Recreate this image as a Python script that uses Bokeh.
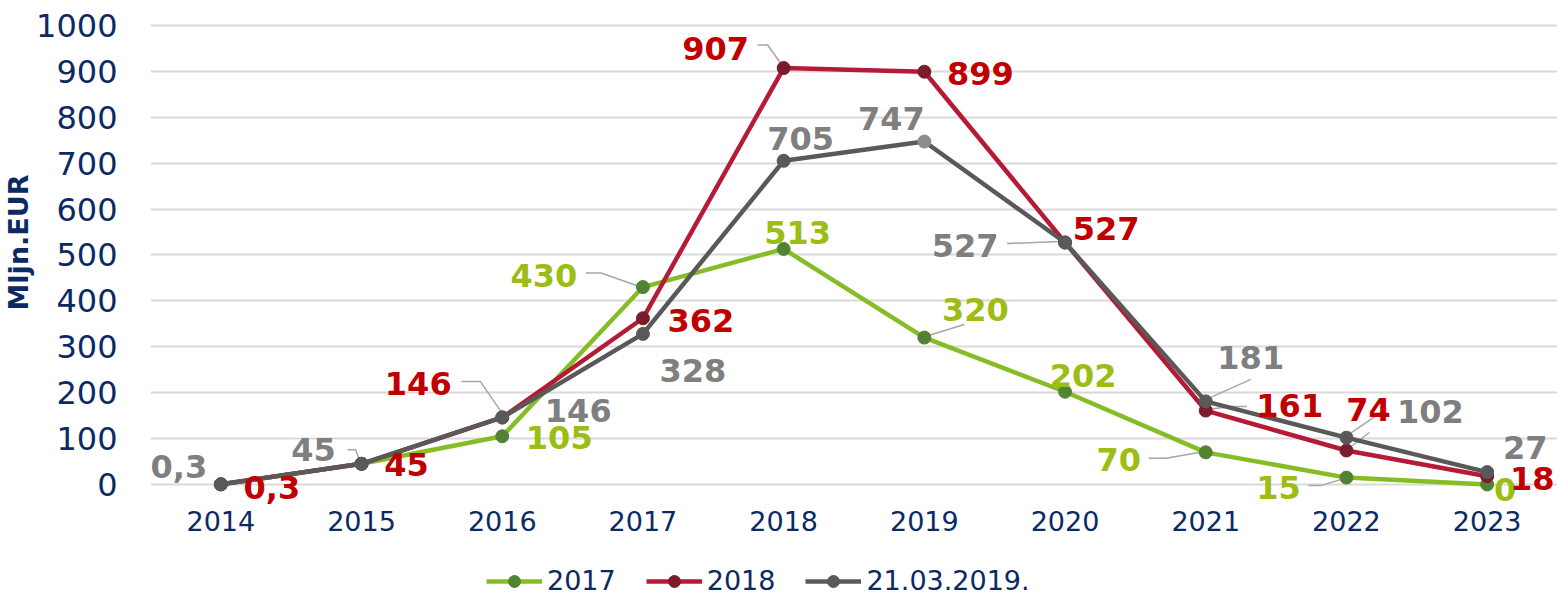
from bokeh.plotting import figure
from bokeh.layouts import column
from bokeh.models import ColumnDataSource, FixedTicker, Legend, LegendItem, FactorRange, Range1d, Title
from bokeh.core.properties import value
from bokeh.embed import file_html
from bokeh.resources import INLINE

# ---------------- data ----------------
years = ["2014", "2015", "2016", "2017", "2018", "2019", "2020", "2021", "2022", "2023"]
v_2017 = [0.3, 45, 105, 430, 513, 320, 202, 70, 15, 0]
v_2018 = [0.3, 45, 146, 362, 907, 899, 527, 161, 74, 18]
v_2019 = [0.3, 45, 146, 328, 705, 747, 527, 181, 102, 27]
series_names = ["2017", "2018", "21.03.2019."]
y_ticks = [0, 100, 200, 300, 400, 500, 600, 700, 800, 900, 1000]
y_title = "Mljn.EUR"

# which data labels are shown (some are hidden behind others in the original)
show_2017 = [False, False, True, True, True, True, True, True, True, True]
show_2018 = [True] * 10
show_2019 = [True] * 10

# ---------------- styles ----------------
FONT = "DejaVu Sans"
NAVY = "#0B2A63"
line_cols = ["#86BC25", "#B51A36", "#595959"]
mark_cols = ["#548235", "#7B1C2C", "#595959"]
text_cols = ["#9CBD13", "#C00000", "#7F7F7F"]
LEADER = "#A6A6A6"
# per-point marker colours of the grey series (one point is drawn lighter)
gray_marker_cols = ["#595959"] * 5 + ["#8C8C8C"] + ["#595959"] * 4

FRAME_W, FRAME_H = 1407, 492
Y0, Y1 = -43.6, 1028
PX_X = FRAME_W / len(years)          # pixels per category
PX_Y = FRAME_H / (Y1 - Y0)           # pixels per value unit

# label offsets in screen pixels (dx right, dy down)
dx_2017 = [0, 0, 57, -99, 14, 51, 18, -87, -68, 18]
dy_2017 = [0, 0, 1, -12, -16, -28, -16, 7, 10, 5]
dx_2018 = [51, 45, -84, 58, -68, 56, 41, 84, 22, 45]
dy_2018 = [3, 1, -34, 2, -20, 2, -14, -5, -41, 2]
dx_2019 = [-42, -48, 76, 50, 17, -33, -100, 45, 84, 38]
dy_2019 = [-18, -14, -7, 37, -22, -23, 3, -44, -26, -25]

# leader lines: (series index, point index, vertex pixel offsets from the point)
leaders = [
    (2, 1, [(-14, -14), (-6, -14), (-1, -1)]),
    (1, 2, [(-41, -36), (-22, -36), (0, -4)]),
    (0, 3, [(-57, -14), (-42, -14), (-2, 0)]),
    (1, 4, [(-26, -23), (-16, -23), (-1, -2)]),
    (0, 5, [(4, -2), (40, -13)]),
    (2, 6, [(-58, 1), (-5, -1)]),
    (2, 7, [(5, -4), (45, -22)]),
    (1, 7, [(2, -1), (25, -4), (41, -4)]),
    (2, 8, [(2, -3), (40, -29)]),
    (1, 8, [(2, -2), (23, -18)]),
    (0, 7, [(-57, 6), (-40, 6), (-5, 0)]),
    (0, 8, [(-38, 8), (-26, 8), (-6, 2)]),
]


def fmt(v):
    s = ("%g" % v)
    return s.replace(".", ",")


p = figure(
    width=1557, height=545,
    x_range=FactorRange(*years, range_padding=0),
    y_range=Range1d(Y0, Y1),
    output_backend="svg", toolbar_location=None,
    min_border_left=150, min_border_right=0, min_border_top=12, min_border_bottom=41,
)
p.outline_line_color = None
p.background_fill_color = "white"
p.border_fill_color = "white"

# grid
p.xgrid.grid_line_color = None
p.ygrid.ticker = FixedTicker(ticks=y_ticks)
p.ygrid.grid_line_color = "#D9D9D9"
p.ygrid.grid_line_width = 2

# axes
p.yaxis.ticker = FixedTicker(ticks=y_ticks)
p.yaxis.axis_line_color = None
p.yaxis.major_tick_line_color = None
p.yaxis.minor_tick_line_color = None
p.yaxis.major_label_standoff = 27
p.yaxis.major_label_text_font = FONT
p.yaxis.major_label_text_font_size = "32px"
p.yaxis.major_label_text_color = NAVY

p.xaxis.axis_line_color = None
p.xaxis.major_tick_line_color = None
p.xaxis.minor_tick_line_color = None
p.xaxis.major_label_standoff = 0
p.xaxis.major_label_text_font = FONT
p.xaxis.major_label_text_font_size = "27px"
p.xaxis.major_label_text_color = NAVY

# y-axis title as a left-side title (placed slightly above the frame centre)
p.add_layout(Title(text=y_title, align="left", offset=194, standoff=0,
                   text_font=FONT, text_font_size="27px", text_font_style="bold",
                   text_color=NAVY), "left")

series = [v_2017, v_2018, v_2019]
shows = [show_2017, show_2018, show_2019]
dxs = [dx_2017, dx_2018, dx_2019]
dys = [dy_2017, dy_2018, dy_2019]
marker_fills = [[mark_cols[0]] * 10, [mark_cols[1]] * 10, gray_marker_cols]

# leader lines (computed from the data points plus pixel offsets)
lx, ly = [], []
for si, pi, offs in leaders:
    cx = pi + 0.5
    cy = series[si][pi]
    lx.append([cx + ox / PX_X for ox, oy in offs])
    ly.append([cy - oy / PX_Y for ox, oy in offs])
p.multi_line(lx, ly, line_color=LEADER, line_width=1.5)

for i, vals in enumerate(series):
    src = ColumnDataSource(dict(x=years, y=vals, c=marker_fills[i]))
    p.line("x", "y", source=src, line_color=line_cols[i], line_width=4.5)
    p.scatter("x", "y", source=src, size=13, fill_color="c", line_color="c")

# data labels: green first, then gray, then red on top
for i in [0, 2, 1]:
    vals = series[i]
    txt = [fmt(v) if s else "" for v, s in zip(vals, shows[i])]
    lsrc = ColumnDataSource(dict(x=years, y=vals, t=txt, dx=dxs[i], dy=dys[i]))
    p.text("x", "y", text="t", source=lsrc, x_offset="dx", y_offset="dy",
           text_align="center", text_baseline="middle",
           text_font=value(FONT), text_font_style="bold", text_font_size="32px",
           text_color=text_cols[i])

# ---------------- legend strip ----------------
q = figure(width=1557, height=51, x_range=Range1d(0, 1), y_range=Range1d(0, 1),
           output_backend="svg", toolbar_location=None,
           min_border_left=0, min_border_right=0, min_border_top=0, min_border_bottom=0)
q.axis.visible = False
q.grid.visible = False
q.outline_line_color = None
items = []
for i in range(3):
    # legend-only renderers, their points lie outside the visible range
    dummy = ColumnDataSource(dict(x=[-5, -4], y=[-5, -4]))
    ln = q.line("x", "y", source=dummy, line_color=line_cols[i], line_width=4.5)
    sc = q.scatter("x", "y", source=dummy, size=13, fill_color=mark_cols[i], line_color=mark_cols[i])
    items.append(LegendItem(label=series_names[i], renderers=[ln, sc]))

legend = Legend(items=items, orientation="horizontal", location=(336, 0))
legend.label_text_font = FONT
legend.label_text_font_size = "27px"
legend.label_text_color = NAVY
legend.glyph_width = 56
legend.glyph_height = 30
legend.spacing = 30
legend.label_standoff = 5
legend.padding = 0
legend.margin = 0
legend.border_line_color = None
legend.background_fill_alpha = 0
q.add_layout(legend, "center")

layout = column(p, q, spacing=0)
open("out.html", "w").write(file_html(layout, INLINE))
